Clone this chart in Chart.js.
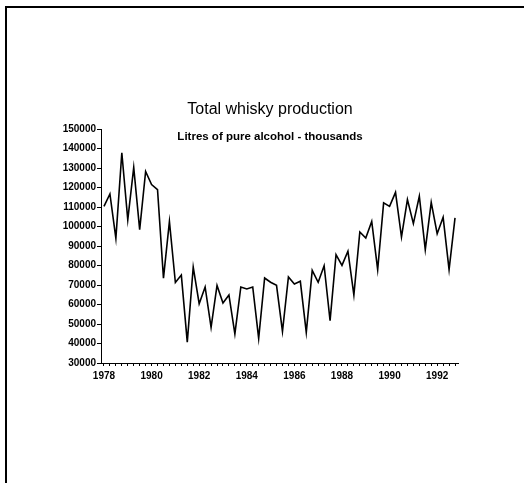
<!DOCTYPE html>
<html>
<head>
<meta charset="utf-8">
<script src="https://cdn.jsdelivr.net/npm/chart.js@4/dist/chart.umd.min.js"></script>
<style>
  html, body { margin: 0; padding: 0; background: #fff; overflow: hidden; }
  #wrap { position: relative; width: 524px; height: 483px; }
  #frame { position: absolute; left: 5px; top: 6px; width: 540px; height: 500px;
           border-top: 2px solid #000; border-left: 2px solid #000; }
  #c { position: absolute; left: 0; top: 0; }
</style>
</head>
<body>
<div id="wrap">
  <div id="frame"></div>
  <canvas id="c" width="524" height="483"></canvas>
</div>
<script>
// Quarterly data, 1978 Q1 – 1992 Q4
const years = [1978,1979,1980,1981,1982,1983,1984,1985,1986,1987,1988,1989,1990,1991,1992];
const quarters = ["Q1","Q2","Q3","Q4"];
const quarterLabels = [];
years.forEach(y => quarters.forEach(q => quarterLabels.push(y + " " + q)));

const production = [
  110300,116700,93900,137800,
  103400,130300,98400,128200,
  121500,118900,73500,102600,
  71300,75100,40700,79200,
  60400,69000,48300,69800,
  60800,64900,44900,69000,
  68000,69000,42600,73600,
  71400,69800,46200,74100,
  70500,71900,45700,77500,
  71400,79900,51700,85600,
  80100,87300,64900,97200,
  94100,102600,77900,112100,
  110300,117500,94600,113800,
  101500,115500,88100,112400,
  96300,104700,77900,104400
];

const titleText = "Total whisky production";
const subtitleText = "Litres of pure alcohol - thousands";
const yMin = 30000, yMax = 150000, yStep = 10000;

const FONT = "'Liberation Sans', Arial, Helvetica, sans-serif";

new Chart(document.getElementById('c'), {
  type: 'line',
  data: {
    labels: quarterLabels,
    datasets: [{
      data: production,
      borderColor: '#000',
      borderWidth: 1.6,
      pointRadius: 0,
      tension: 0,
      fill: false,
      yAxisID: 'y'
    }]
  },
  options: {
    responsive: false,
    animation: false,
    devicePixelRatio: 1,
    layout: { padding: { left: 58, right: 42, top: 99.5, bottom: 100 } },
    plugins: {
      legend: { display: false },
      tooltip: { enabled: false },
      title: {
        display: true,
        text: titleText,
        color: '#000',
        font: { family: FONT, size: 16, weight: 'normal', lineHeight: 1.2 },
        padding: { top: 0, bottom: 0 }
      },
      subtitle: {
        display: true,
        text: subtitleText,
        color: '#000',
        font: { family: FONT, size: 11.5, weight: 'bold', lineHeight: 1.2 },
        padding: { top: 11.5, bottom: -15 }
      }
    },
    scales: {
      x: {
        type: 'category',
        offset: true,
        afterFit: s => { s.height = 20; },
        border: { display: true, color: '#000', width: 1 },
        grid: { display: true, drawOnChartArea: false, drawTicks: true, tickLength: 3, color: '#000', offset: false },
        ticks: {
          autoSkip: false,
          maxRotation: 0,
          minRotation: 0,
          padding: 4,
          color: '#000',
          font: { family: FONT, size: 10, weight: 'bold' },
          callback: function(v, i) { return i % 8 === 0 ? quarterLabels[i].slice(0, 4) : ''; }
        }
      },
      y: {
        position: 'left',
        min: yMin,
        max: yMax,
        afterFit: s => { s.width = 43; },
        border: { display: true, color: '#000', width: 1 },
        grid: { display: true, drawOnChartArea: false, drawTicks: true, tickLength: 4, color: '#000' },
        ticks: {
          stepSize: yStep,
          padding: 1,
          color: '#000',
          font: { family: FONT, size: 10, weight: 'bold' },
          callback: v => String(v)
        }
      },
      // empty spacer on the right so the titles sit where they do in the original
      spacer: {
        type: 'linear',
        position: 'right',
        display: true,
        afterFit: s => { s.width = 24; },
        border: { display: false },
        grid: { display: false, drawTicks: false },
        ticks: { display: false }
      }
    }
  }
});
</script>
</body>
</html>
